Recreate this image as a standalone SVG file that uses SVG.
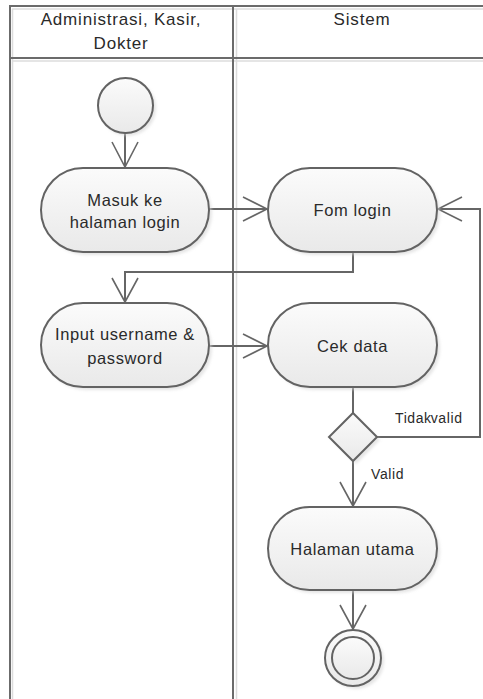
<svg xmlns="http://www.w3.org/2000/svg" width="483" height="699" viewBox="0 0 483 699">
  <style>
    .lane { stroke: #6b6b6b; stroke-width: 2; fill: none; }
    .lane-sh { stroke: #dcdcdc; stroke-width: 1.5; fill: none; }
    .node { fill: url(#fillGrad); stroke: #636363; stroke-width: 2; }
    .shadow { fill: #d4d4d4; opacity: 0.6; }
    .edge { stroke: #666666; stroke-width: 2; fill: none; }
    .head { stroke: #666666; stroke-width: 1.6; fill: none; }
    text { font-family: "Liberation Sans", Arial, sans-serif; fill: #2a2a2a; text-anchor: middle; }
    .t { font-size: 16.5px; letter-spacing: 0.6px; }
    .h { font-size: 17px; letter-spacing: 0.8px; }
    .lbl { font-size: 14px; letter-spacing: 0.6px; text-anchor: start; }
  </style>
  <defs>
    <linearGradient id="fillGrad" x1="0" y1="0" x2="0" y2="1">
      <stop offset="0" stop-color="#fbfbfb"/>
      <stop offset="1" stop-color="#e9e9e9"/>
    </linearGradient>
    <filter id="blur" x="-10%" y="-10%" width="130%" height="130%">
      <feGaussianBlur stdDeviation="1.5"/>
    </filter>
  </defs>

  <rect width="483" height="699" fill="#ffffff"/>

  <!-- swimlanes -->
  <g id="swimlanes">
    <line class="lane-sh" x1="12.5" y1="9" x2="12.5" y2="699"/>
    <line class="lane-sh" x1="236.5" y1="9" x2="236.5" y2="699"/>
    <line class="lane-sh" x1="12" y1="9" x2="483" y2="9"/>
    <line class="lane-sh" x1="12" y1="61" x2="483" y2="61"/>
    <line class="lane" x1="10" y1="6" x2="10" y2="699"/>
    <line class="lane" x1="233" y1="6" x2="233" y2="699"/>
    <line class="lane" x1="9" y1="6" x2="483" y2="6"/>
    <line class="lane" x1="9" y1="58" x2="483" y2="58"/>
    <text class="h" x="121" y="25">Administrasi, Kasir,</text>
    <text class="h" x="121" y="49">Dokter</text>
    <text class="h" x="362" y="25">Sistem</text>
  </g>

  <!-- connectors -->
  <g id="connectors">
    <line class="edge" x1="125" y1="133" x2="125" y2="167"/>
    <polyline class="head" points="112,142 125,167 138,142"/>

    <line class="edge" x1="209" y1="209" x2="267" y2="209"/>
    <polyline class="head" points="243,197 267,209 243,221"/>

    <polyline class="edge" points="353,252 353,272 125,272 125,302"/>
    <polyline class="head" points="112,278 125,302 138,278"/>

    <line class="edge" x1="209" y1="346" x2="267" y2="346"/>
    <polyline class="head" points="243,334 267,346 243,358"/>

    <line class="edge" x1="353" y1="387" x2="353" y2="413"/>

    <polyline class="edge" points="377,437 480,437 480,209 438,209"/>
    <polyline class="head" points="462,197 438,209 462,221"/>
    <text class="lbl" x="395" y="423">Tidak<tspan dx="-1">valid</tspan></text>

    <line class="edge" x1="353" y1="461" x2="353" y2="506"/>
    <polyline class="head" points="340,482 353,506 366,482"/>
    <text class="lbl" x="371" y="479">Valid</text>

    <line class="edge" x1="353" y1="590" x2="353" y2="629"/>
    <polyline class="head" points="340,605 353,629 366,605"/>
  </g>

  <!-- initial node -->
  <g id="start">
    <circle class="shadow" cx="128" cy="108" r="28" filter="url(#blur)"/>
    <circle class="node" cx="125.5" cy="105.5" r="27.5"/>
  </g>

  <g id="masuk">
    <rect class="shadow" x="44" y="171" width="168" height="84" rx="42" filter="url(#blur)"/>
    <rect class="node" x="41" y="168" width="168" height="84" rx="42"/>
    <text class="t" x="125" y="206">Masuk ke</text>
    <text class="t" x="125" y="228">halaman login</text>
  </g>

  <g id="fom-login">
    <rect class="shadow" x="271" y="171" width="169" height="84" rx="42" filter="url(#blur)"/>
    <rect class="node" x="268" y="168" width="169" height="84" rx="42"/>
    <text class="t" x="352.5" y="216">Fom login</text>
  </g>

  <g id="input">
    <rect class="shadow" x="44" y="306" width="168" height="84" rx="42" filter="url(#blur)"/>
    <rect class="node" x="41" y="303" width="168" height="84" rx="42"/>
    <text class="t" x="125" y="340">Input username &amp;</text>
    <text class="t" x="125" y="364">password</text>
  </g>

  <g id="cek-data">
    <rect class="shadow" x="271" y="306" width="169" height="84" rx="42" filter="url(#blur)"/>
    <rect class="node" x="268" y="303" width="169" height="84" rx="42"/>
    <text class="t" x="352.5" y="352">Cek data</text>
  </g>

  <g id="decision">
    <polygon class="shadow" points="356,416 380,440 356,464 332,440" filter="url(#blur)"/>
    <polygon class="node" points="353,413 377,437 353,461 329,437"/>
  </g>

  <g id="halaman-utama">
    <rect class="shadow" x="271" y="510" width="169" height="83" rx="41.5" filter="url(#blur)"/>
    <rect class="node" x="268" y="507" width="169" height="83" rx="41.5"/>
    <text class="t" x="352.5" y="555">Halaman utama</text>
  </g>

  <g id="end">
    <circle class="shadow" cx="356" cy="661" r="28" filter="url(#blur)"/>
    <circle class="node" cx="353" cy="658" r="28"/>
    <circle class="node" cx="353" cy="658" r="21"/>
  </g>
</svg>
